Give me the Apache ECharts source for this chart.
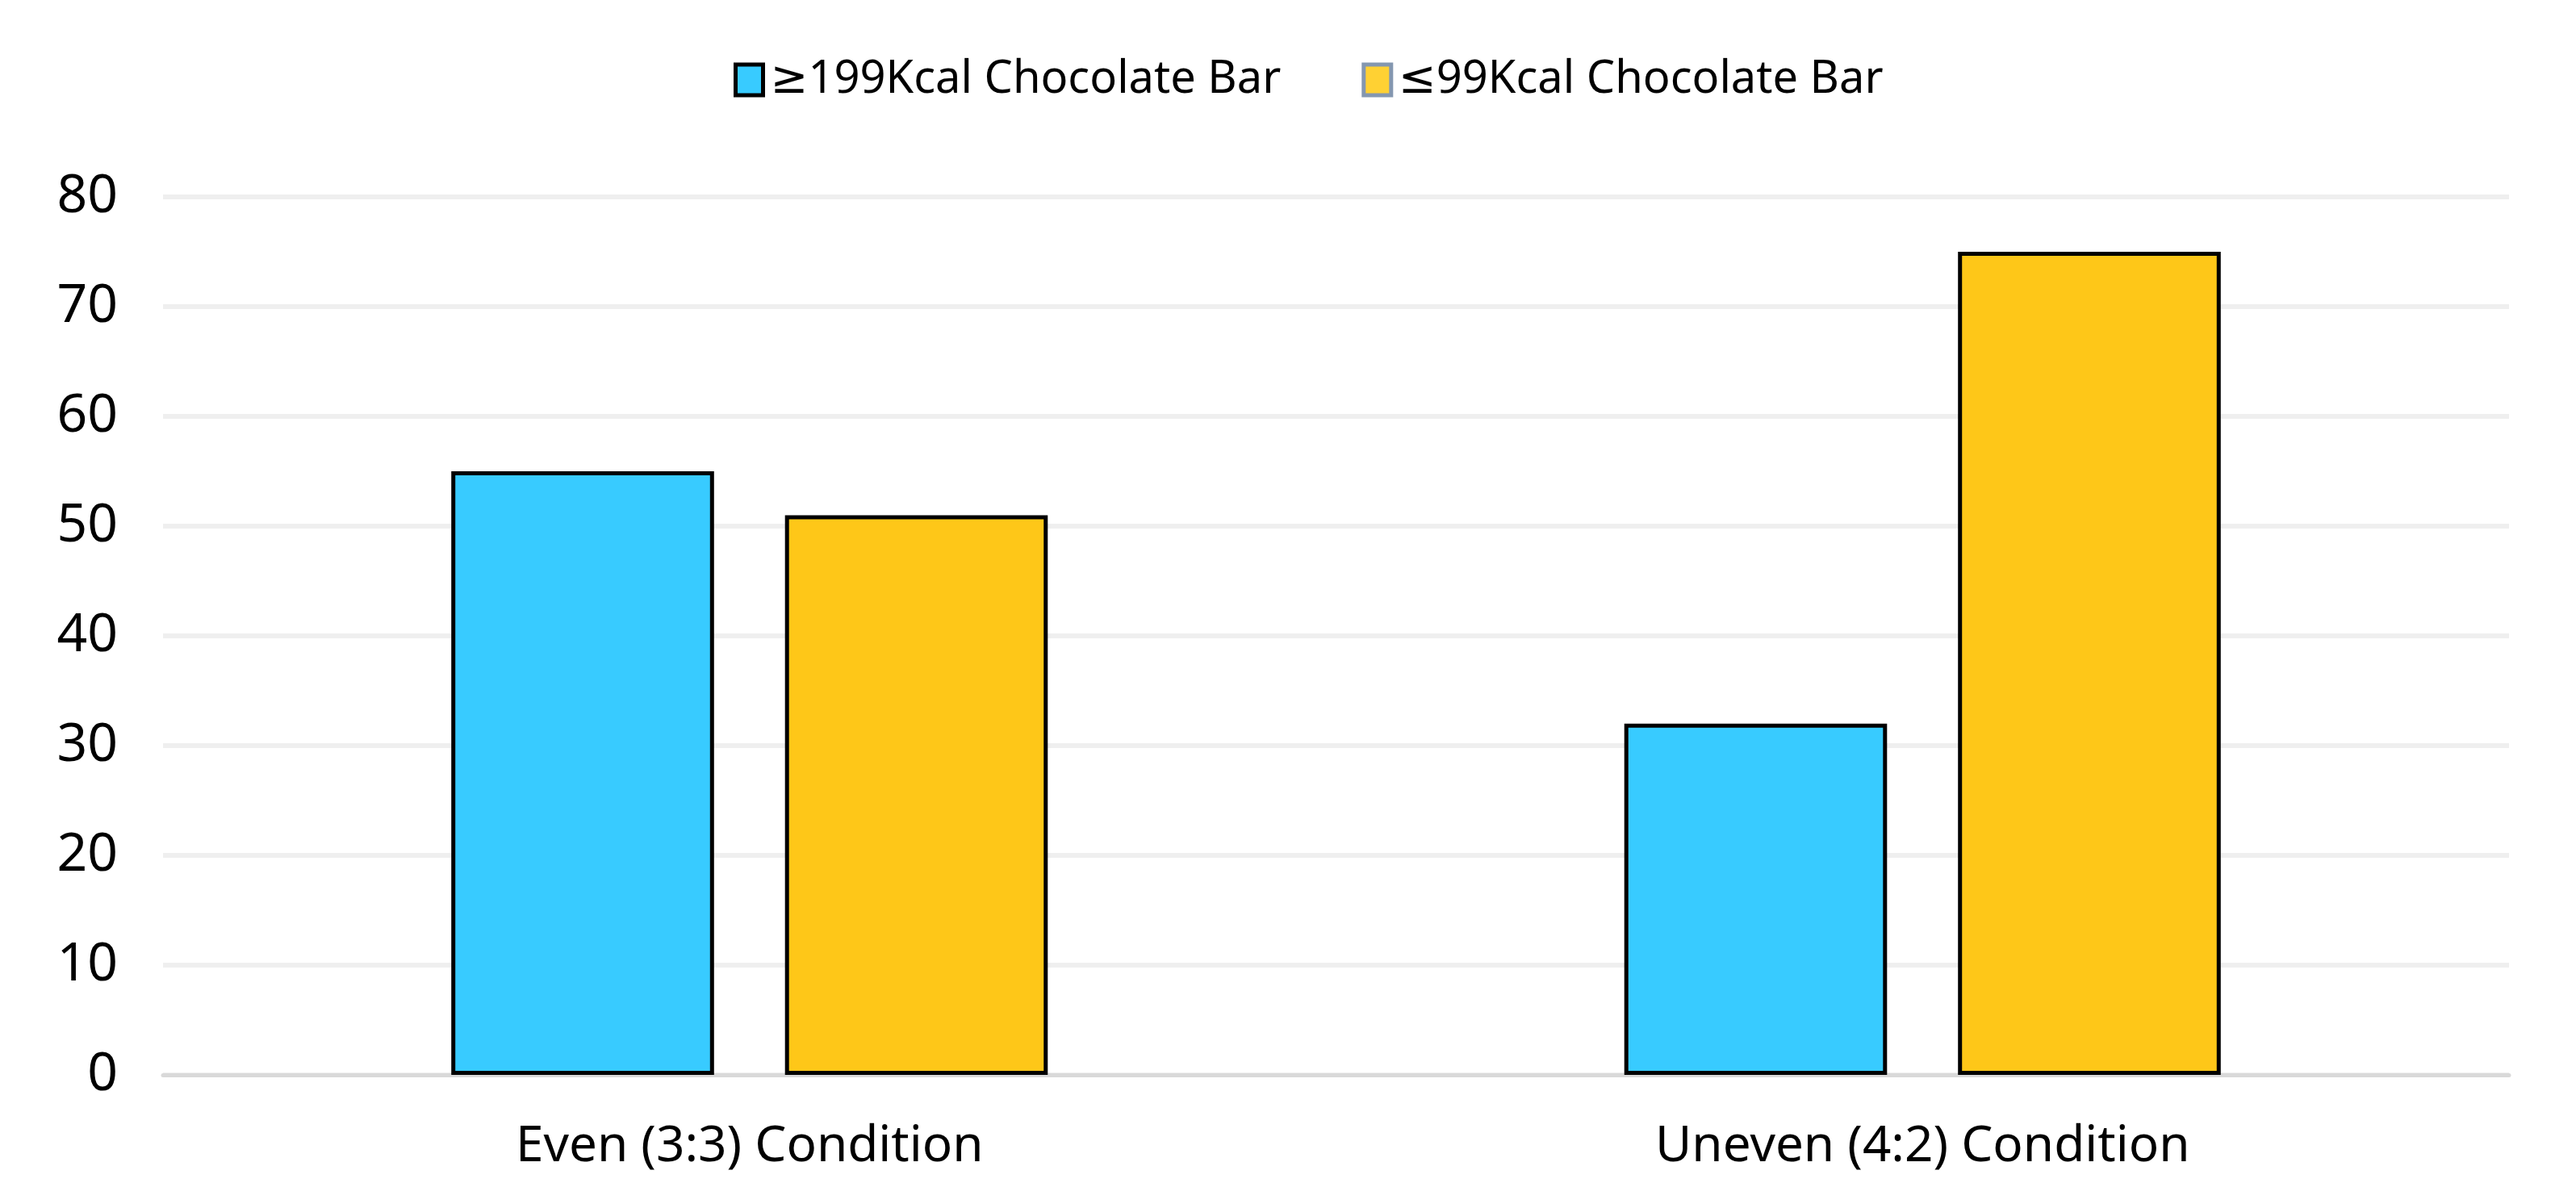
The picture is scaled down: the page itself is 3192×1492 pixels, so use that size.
<!DOCTYPE html>
<html>
<head>
<meta charset="utf-8">
<script src="https://cdn.jsdelivr.net/npm/echarts@6/dist/echarts.min.js"></script>
<style>
html,body{margin:0;padding:0;background:#fff;}
#chart{width:3192px;height:1492px;}
</style>
</head>
<body>
<div id="chart"></div>
<script>
const categories = ['Even (3:3) Condition', 'Uneven (4:2) Condition'];
const seriesNames = ['≥199Kcal Chocolate Bar', '≤99Kcal Chocolate Bar'];
const highCalValues = [55, 32];
const lowCalValues = [51, 75];
const yTicks = [0, 10, 20, 30, 40, 50, 60, 70, 80];

const FONT = '"Noto Sans", "DejaVu Sans", sans-serif';
const chart = echarts.init(document.getElementById('chart'), null, {renderer: 'canvas'});
chart.setOption({
  backgroundColor: '#ffffff',
  animation: false,
  textStyle: {fontFamily: FONT},
  legend: {
    top: 66,
    left: 904,
    icon: 'rect',
    itemWidth: 34,
    itemHeight: 38,
    itemGap: 100,
    textStyle: {fontSize: 56, color: '#000', fontFamily: FONT, padding: [0, 0, 0, 4]},
    data: [
      {name: seriesNames[0], itemStyle: {color: '#38CBFF', borderColor: '#000000', borderWidth: 5}},
      {name: seriesNames[1], itemStyle: {color: '#FFD133', borderColor: '#8497B0', borderWidth: 5}}
    ]
  },
  grid: {left: 202, right: 83, top: 244, bottom: 160, containLabel: false},
  xAxis: {
    type: 'category',
    data: categories,
    axisLine: {show: true, lineStyle: {color: '#D9D9D9', width: 5}},
    axisTick: {show: false},
    axisLabel: {fontSize: 62, color: '#000', margin: 58, fontFamily: FONT},
    splitLine: {show: false}
  },
  yAxis: {
    type: 'value',
    min: yTicks[0],
    max: yTicks[yTicks.length - 1],
    interval: yTicks[1] - yTicks[0],
    axisLine: {show: false},
    axisTick: {show: false},
    axisLabel: {fontSize: 66, color: '#000', margin: 56, fontFamily: FONT},
    splitLine: {show: true, lineStyle: {color: '#EFEFEF', width: 6}}
  },
  series: [
    {
      name: seriesNames[0],
      type: 'bar',
      data: highCalValues,
      barWidth: '22.4%',
      barGap: '27%',
      itemStyle: {color: '#38CBFF', borderColor: '#000000', borderWidth: 5}
    },
    {
      name: seriesNames[1],
      type: 'bar',
      data: lowCalValues,
      barWidth: '22.4%',
      barGap: '27%',
      itemStyle: {color: '#FEC718', borderColor: '#000000', borderWidth: 5}
    }
  ]
});
</script>
</body>
</html>
